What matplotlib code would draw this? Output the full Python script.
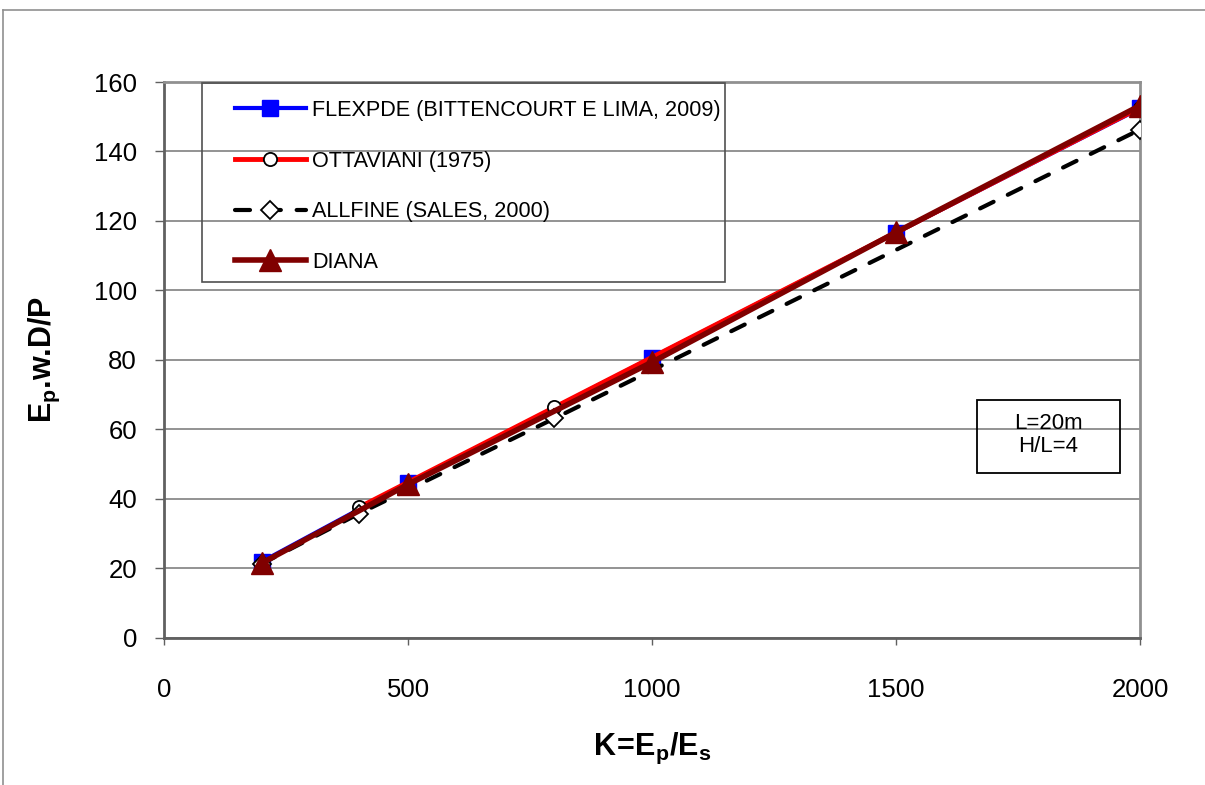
import matplotlib
matplotlib.use('Agg')
import matplotlib.pyplot as plt
from matplotlib import font_manager
from matplotlib.patches import Rectangle
from matplotlib.lines import Line2D

# dados
k_flex = [200, 500, 1000, 1500, 2000]
y_flex = [21.8, 44.5, 80.6, 116.6, 152.4]

k_otta = [400, 800, 2000]
y_otta = [37.5, 66.3, 152.6]

k_allf = [200, 400, 800, 2000]
y_allf = [21.2, 35.7, 63.1, 146.3]

k_diana = [200, 500, 1000, 1500, 2000]
y_diana = [21.4, 44.1, 79.3, 116.7, 153.2]

labels = ['FLEXPDE (BITTENCOURT E LIMA, 2009)', 'OTTAVIANI (1975)',
          'ALLFINE (SALES, 2000)', 'DIANA']
x_ticks = [0, 500, 1000, 1500, 2000]
y_ticks = [0, 20, 40, 60, 80, 100, 120, 140, 160]

# fonte estreita para os titulos dos eixos, se existir
nomes = {f.name for f in font_manager.fontManager.ttflist}
fonte_eixo = 'Liberation Sans Narrow' if 'Liberation Sans Narrow' in nomes else 'Liberation Sans'

plt.rcParams['font.family'] = ['Liberation Sans', 'DejaVu Sans']
plt.rcParams['mathtext.fontset'] = 'custom'
plt.rcParams['mathtext.rm'] = fonte_eixo
plt.rcParams['mathtext.bf'] = fonte_eixo + ':bold'

W, H = 1205, 785
fig = plt.figure(figsize=(W / 100, H / 100), dpi=100)
ax = fig.add_axes([164 / W, 1 - 637.5 / H, 976 / W, 555.5 / H])

# borda da figura (so topo e esquerda aparecem)
fig.add_artist(Line2D([3 / W, 1], [1 - 10 / H, 1 - 10 / H], color='#909090', lw=1.2))
fig.add_artist(Line2D([3 / W, 3 / W], [0, 1 - 10 / H], color='#909090', lw=1.2))

ax.plot(k_flex, y_flex, color='#0000ff', lw=3, marker='s', ms=12,
        mfc='#0000ff', mec='#0000ff', label=labels[0], zorder=3)
ax.plot(k_otta, y_otta, color='#ff0000', lw=3.5, marker='o', ms=9.5,
        mfc='white', mec='black', mew=1.3, label=labels[1], zorder=4)
ax.plot(k_allf, y_allf, color='black', lw=3, ls=(0, (3.6, 3.8)), marker='D', ms=9,
        mfc='white', mec='black', mew=1.3, label=labels[2], zorder=5,
        dash_capstyle='round')
ax.plot(k_diana, y_diana, color='#800000', lw=4, marker='^', ms=16,
        mfc='#800000', mec='#800000', label=labels[3], zorder=6)

ax.set_xlim(0, 2000)
ax.set_ylim(0, 160)
ax.set_xticks(x_ticks)
ax.set_yticks(y_ticks)
ax.yaxis.grid(True, color='#808080', lw=1.2)
ax.set_axisbelow(True)
for s in ['top', 'right']:
    ax.spines[s].set_color('#909090')
    ax.spines[s].set_linewidth(2)
for s in ['left', 'bottom']:
    ax.spines[s].set_color('#606060')
    ax.spines[s].set_linewidth(2)
ax.tick_params(axis='y', direction='out', length=6.5, width=1, color='#606060',
               labelsize=18.5, pad=13)
ax.tick_params(axis='x', direction='out', length=5, width=1, color='#606060',
               labelsize=18.5, pad=24)

ax.set_xlabel(r'$\mathbf{K\!=\!E_p/E_s}$', fontsize=22)
ax.set_ylabel(r'$\mathbf{E_p}$.w.D/P', fontsize=22, fontweight='bold',
              family=fonte_eixo)
ax.xaxis.set_label_coords(0.5, -(731 - 637.5) / 555.5)
ax.yaxis.set_label_coords(-(164 - 62) / 976, 0.5)

# legenda com moldura desenhada a parte
fig.add_artist(Rectangle((202 / W, 1 - 282 / H), 523 / W, 199 / H, fill=False,
                         ec='#505050', lw=1.2, transform=fig.transFigure, zorder=10))
leg = ax.legend(loc='upper left', bbox_to_anchor=(235 / W, 1 - 100 / H),
                bbox_transform=fig.transFigure, frameon=False, fontsize=15.6,
                handlelength=3.27, handletextpad=0.28, labelspacing=1.37,
                borderpad=0, borderaxespad=0)
leg.set_zorder(11)

# caixa de texto L=20m
ax.add_patch(Rectangle((977 / W, 1 - 473 / H), 143 / W, 73 / H, fill=False,
                       ec='black', lw=1.3, transform=fig.transFigure, zorder=7))
ax.text(1048 / W, 1 - 435 / H, 'L=20m\nH/L=4', transform=fig.transFigure,
        ha='center', va='center', fontsize=16, linespacing=1.15, zorder=8)

fig.savefig('out.png', dpi=100)
